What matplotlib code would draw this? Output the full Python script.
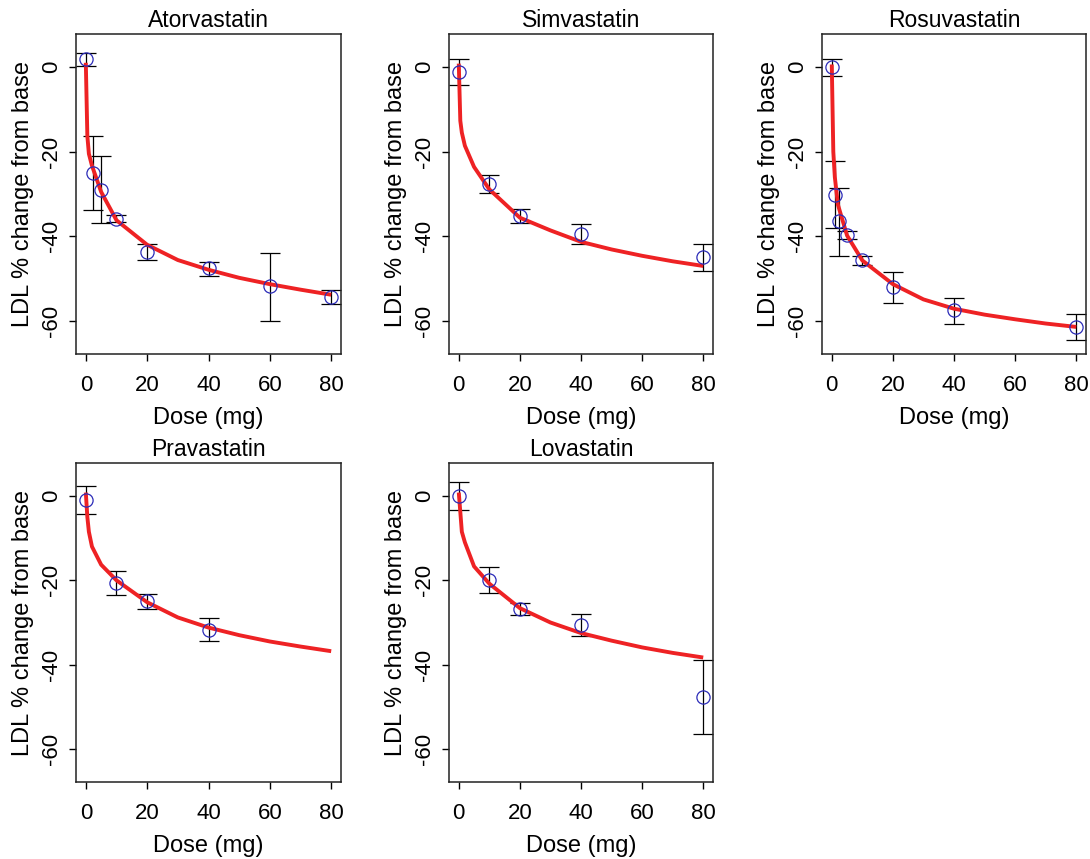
import matplotlib
matplotlib.use("Agg")
import matplotlib.pyplot as plt

plt.rcParams['font.family'] = ['Liberation Sans', 'DejaVu Sans']
plt.rcParams['axes.unicode_minus'] = False

# observed means and error bar limits per statin
drugs = ["Atorvastatin", "Simvastatin", "Rosuvastatin", "Pravastatin", "Lovastatin"]

atorva_dose = [0, 2.5, 5, 10, 20, 40, 60, 80]
atorva_mean = [1.8, -25.0, -29.0, -35.8, -43.7, -47.6, -51.8, -54.3]
atorva_lo = [0.2, -33.8, -36.9, -36.7, -45.6, -49.3, -60.0, -56.1]
atorva_hi = [3.3, -16.3, -21.1, -34.9, -41.8, -46.1, -44.0, -52.6]

simva_dose = [0, 10, 20, 40, 80]
simva_mean = [-1.1, -27.7, -35.2, -39.4, -45.0]
simva_lo = [-4.2, -29.8, -36.8, -41.8, -48.3]
simva_hi = [2.0, -25.4, -33.5, -37.1, -41.8]

rosuva_dose = [0, 1, 2.5, 5, 10, 20, 40, 80]
rosuva_mean = [0.0, -30.3, -36.4, -39.6, -45.5, -51.9, -57.4, -61.4]
rosuva_lo = [-2.1, -38.1, -44.6, -40.6, -46.7, -55.7, -60.6, -64.5]
rosuva_hi = [2.0, -22.3, -28.7, -38.7, -44.6, -48.4, -54.6, -58.4]

prava_dose = [0, 10, 20, 40]
prava_mean = [-0.9, -20.6, -24.9, -31.7]
prava_lo = [-4.3, -23.5, -26.7, -34.4]
prava_hi = [2.4, -17.7, -23.2, -28.9]

lova_dose = [0, 10, 20, 40, 80]
lova_mean = [0.0, -19.9, -26.9, -30.6, -47.7]
lova_lo = [-3.3, -23.1, -28.3, -33.1, -56.5]
lova_hi = [3.3, -16.9, -25.4, -27.9, -38.8]

# fitted dose-response curves
curve_dose = [0, 0.5, 1, 2, 5, 10, 20, 30, 40, 50, 60, 70, 80]
atorva_fit = [1.0, -16.3, -20.5, -23.3, -29.5, -36.2, -42.0, -45.6, -47.9, -49.8, -51.3, -52.6, -53.8]
simva_fit = [0.8, -12.7, -15.5, -18.6, -23.6, -28.9, -35.6, -38.6, -41.3, -43.1, -44.6, -45.9, -47.0]
rosuva_fit = [0.6, -20.0, -26.0, -32.5, -39.8, -45.7, -51.3, -54.9, -57.1, -58.5, -59.6, -60.6, -61.4]
prava_fit = [0.8, -5.0, -8.5, -12.0, -16.3, -20.0, -25.2, -28.8, -31.2, -33.0, -34.5, -35.7, -36.8]
lova_fit = [0.8, -3.8, -8.5, -11.0, -16.7, -20.8, -26.6, -30.0, -32.5, -34.3, -35.9, -37.2, -38.3]

panels = [
    (atorva_dose, atorva_mean, atorva_lo, atorva_hi, atorva_fit),
    (simva_dose, simva_mean, simva_lo, simva_hi, simva_fit),
    (rosuva_dose, rosuva_mean, rosuva_lo, rosuva_hi, rosuva_fit),
    (prava_dose, prava_mean, prava_lo, prava_hi, prava_fit),
    (lova_dose, lova_mean, lova_lo, lova_hi, lova_fit),
]

W, H = 1090, 859
fig = plt.figure(figsize=(W / 100, H / 100), dpi=100)

# axes boxes in pixels: left, top, right, bottom
boxes = [(76, 34, 341, 354), (449, 34, 713, 354), (822, 34, 1086, 354),
         (76, 463, 341, 782), (449, 463, 713, 782)]

for name, (l, t, r, b), (dose, mean, lo, hi, fit) in zip(drugs, boxes, panels):
    ax = fig.add_axes([l / W, 1 - b / H, (r - l) / W, (b - t) / H])

    yerr = [[m - x for m, x in zip(mean, lo)], [x - m for m, x in zip(mean, hi)]]
    ax.errorbar(dose, mean, yerr=yerr, fmt='none', ecolor='black',
                elinewidth=0.9, capsize=7, capthick=0.9, zorder=2)
    ax.plot(curve_dose, fit, color='#ee2224', lw=2.8, zorder=3,
            solid_capstyle='butt')
    ax.plot(dose, mean, 'o', ms=9.5, mfc='none', mec='#2b2bb8', mew=0.9,
            zorder=4)

    ax.set_xlim(-3.2, 83.2)
    ax.set_ylim(-67.8, 7.8)
    ax.set_xticks([0, 20, 40, 60, 80])
    ax.set_yticks([-60, -40, -20, 0])
    ax.tick_params(direction='out', length=5, width=1.0, labelsize=16,
                   colors='black')
    ax.tick_params(axis='x', pad=10)
    ax.tick_params(axis='y', pad=5, labelrotation=90)
    for lab in ax.get_yticklabels():
        lab.set_va('center')
    for s in ax.spines.values():
        s.set_linewidth(1.1)
        s.set_color('#222222')

    ax.text(0.5, 1.023, name, transform=ax.transAxes, ha='center',
            va='baseline', fontsize=16.5)
    ax.text(0.5, -0.219, 'Dose (mg)', transform=ax.transAxes, ha='center',
            va='baseline', fontsize=17)
    ax.text(-0.2, 0.5, 'LDL % change from base', transform=ax.transAxes,
            ha='center', va='center', rotation=90, fontsize=17)

fig.savefig('out.png', dpi=100)
